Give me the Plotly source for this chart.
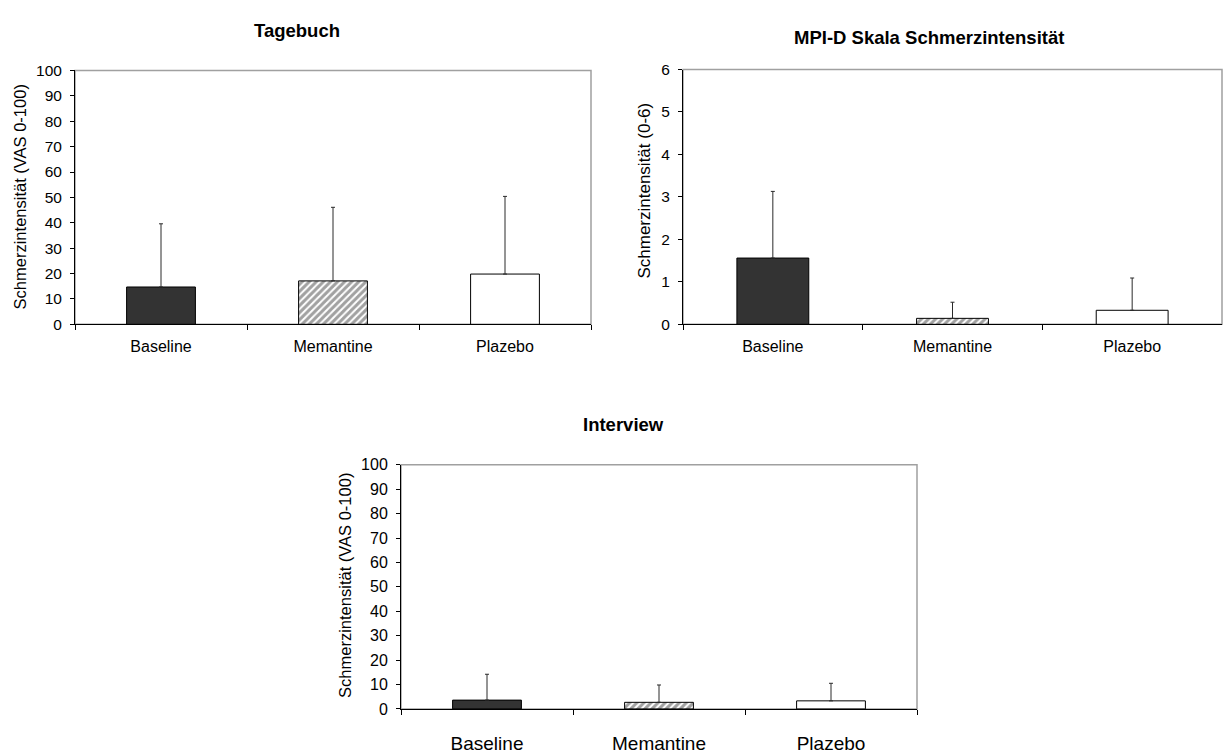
import plotly.graph_objects as go

# Categories shared by all three panels
categories = ["Baseline", "Memantine", "Plazebo"]

# Tagebuch (VAS 0-100): means and upper SD limits
tagebuch_mean = [14.7, 17.1, 19.8]
tagebuch_upper = [39.6, 46.1, 50.4]

# MPI-D Skala Schmerzintensität (0-6)
mpi_mean = [1.56, 0.14, 0.33]
mpi_upper = [3.13, 0.52, 1.09]

# Interview (VAS 0-100)
interview_mean = [3.6, 2.7, 3.3]
interview_upper = [14.2, 9.8, 10.5]

W, H = 1225, 755
FONT = "Liberation Sans, Arial, sans-serif"

bar_colors = ["#333333", "white", "white"]
bar_patterns = ["", "/", ""]


def px_x(p):
    return p / W


def px_y(p):
    return 1 - p / H


panels = [
    dict(mean=tagebuch_mean, upper=tagebuch_upper, x=(75, 591), y=(63, 323),
         ymax=100, dtick=10, title="Tagebuch", title_pos=(297, 22),
         ytitle="Schmerzintensität (VAS 0-100)", ytitle_pos=(20, 193),
         xfont=16, xstand=8, yfont=15.5, ytfont=16.5),
    dict(mean=mpi_mean, upper=mpi_upper, x=(683, 1222), y=(62, 323),
         ymax=6, dtick=1, title="MPI-D Skala Schmerzintensität", title_pos=(929, 29),
         ytitle="Schmerzintensität (0-6)", ytitle_pos=(645, 186),
         xfont=16, xstand=8, yfont=15.5, ytfont=17),
    dict(mean=interview_mean, upper=interview_upper, x=(401, 917), y=(467, 717),
         ymax=100, dtick=10, title="Interview", title_pos=(623, 426),
         ytitle="Schmerzintensität (VAS 0-100)", ytitle_pos=(345, 591),
         xfont=19, xstand=17, yfont=16, ytfont=16.5),
]

fig = go.Figure()
annotations = []
shapes = []

for i, p in enumerate(panels, start=1):
    sfx = "" if i == 1 else str(i)
    plus = [u - m for u, m in zip(p["upper"], p["mean"])]
    fig.add_trace(go.Bar(
        x=categories, y=p["mean"],
        xaxis="x" + sfx, yaxis="y" + sfx,
        width=0.4,
        marker=dict(
            color=bar_colors,
            line=dict(color="black", width=1),
            pattern=dict(shape=bar_patterns, fgcolor="black", size=5, solidity=0.6),
        ),
        error_y=dict(type="data", symmetric=False, array=plus,
                     arrayminus=[0, 0, 0], color="#2a2a2a", thickness=1, width=2),
        showlegend=False,
    ))

    line_style = dict(showline=True, linecolor="black", linewidth=1,
                      showgrid=False, zeroline=False, ticks="outside",
                      tickcolor="black")
    fig.update_layout(**{
        "xaxis" + sfx: dict(
            domain=[px_x(p["x"][0]), px_x(p["x"][1])],
            anchor="y" + sfx, type="category", range=[-0.5, 2.5],
            tickson="boundaries", ticklen=5, ticklabelstandoff=p["xstand"],
            tickfont=dict(family=FONT, color="black", size=p["xfont"]),
            **line_style,
        ),
        "yaxis" + sfx: dict(
            domain=[px_y(p["y"][1]), px_y(p["y"][0])],
            anchor="x" + sfx, range=[0, p["ymax"]], dtick=p["dtick"],
            tick0=0, ticklen=4, ticklabelstandoff=5,
            tickfont=dict(family=FONT, color="black", size=p["yfont"]),
            **line_style,
        ),
    })

    # light plot-area frame (top and right edges)
    shapes.append(dict(type="rect", xref=f"x{sfx} domain", yref=f"y{sfx} domain",
                       x0=0, x1=1, y0=0, y1=1, layer="below",
                       line=dict(color="#a0a0a0", width=1.5)))

    annotations.append(dict(
        text=f"<b>{p['title']}</b>", xref="paper", yref="paper",
        x=px_x(p["title_pos"][0]), y=px_y(p["title_pos"][1]),
        xanchor="center", yanchor="middle", showarrow=False,
        font=dict(family=FONT, size=18.5, color="black"),
    ))
    annotations.append(dict(
        text=p["ytitle"], xref="paper", yref="paper",
        x=px_x(p["ytitle_pos"][0]), y=px_y(p["ytitle_pos"][1]),
        xanchor="center", yanchor="middle", showarrow=False, textangle=-90,
        font=dict(family=FONT, size=p["ytfont"], color="black"),
    ))

fig.update_layout(
    width=W, height=H, autosize=False,
    margin=dict(l=0, r=0, t=0, b=0),
    paper_bgcolor="white", plot_bgcolor="white",
    barmode="overlay",
    annotations=annotations, shapes=shapes,
    font=dict(family=FONT, color="black"),
)

fig.write_html("out.html")
